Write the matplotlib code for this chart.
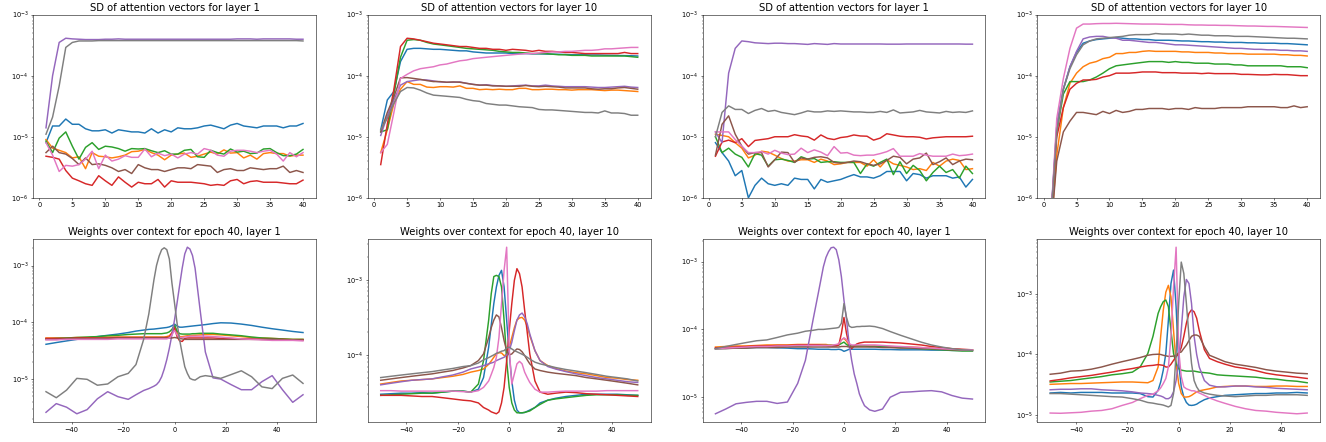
import matplotlib
matplotlib.use("Agg")
import matplotlib.pyplot as plt
import numpy as np

# ---- top row: SD of attention vectors per epoch (values in units of 1e-6) ----
epochs = list(range(1, 41))
SD_UNIT = 1e-6

# panel 1: layer 1 (run A)
sd1_blue = [8, 15, 15, 19.5, 16, 16, 13.5, 12.5, 12.5, 13,
            11.5, 13, 12.5, 12, 12, 11.5, 13.5, 11.5, 13, 12,
            14, 13.5, 13.5, 14, 15, 15.5, 14.5, 13.5, 15.5, 16.5,
            15, 14.5, 14, 15, 15, 15, 14, 15, 15, 16.5]
sd1_orange = [9, 6.5, 6, 5.5, 4.5, 4.7, 3.0, 5.5, 4.8, 4.7,
              4.5, 4.7, 5, 5.7, 5.8, 6.2, 5.5, 5, 4.2, 5,
              5.2, 5.4, 4.6, 4.8, 5.2, 5.6, 5.2, 6.1, 5.4, 5.5,
              4.5, 5.0, 4.3, 5.3, 5.5, 5.3, 5.3, 4.8, 5.0, 5.0]
sd1_green = [8.5, 5.5, 9.5, 12, 7, 4.3, 6.7, 8, 6.2, 7,
             6.8, 6.4, 5.8, 6.4, 6.3, 6.4, 5.9, 5.5, 5.9, 5.2,
             5.2, 6.0, 6.2, 4.7, 4.6, 6.0, 5.5, 5.2, 6.3, 5.6,
             5.8, 5.3, 5.4, 6.3, 6.4, 5.5, 4.9, 4.9, 5.2, 6.2]
sd1_red = [4.8, 4.6, 4.3, 2.8, 2.1, 1.9, 1.7, 1.6, 2.3, 1.9,
           1.6, 2.2, 1.8, 1.5, 1.8, 1.7, 1.7, 2.0, 1.5, 1.9,
           1.8, 1.8, 1.8, 1.75, 1.7, 1.6, 1.65, 1.6, 1.9, 2.0,
           1.7, 1.85, 1.9, 1.8, 1.8, 1.8, 1.75, 1.7, 1.7, 1.95]
sd1_purple = [14, 100, 350, 410, 400, 395, 390, 390, 390, 395,
              395, 400, 395, 395, 395, 395, 395, 395, 395, 395,
              395, 395, 395, 395, 395, 395, 395, 395, 395, 400,
              400, 400, 395, 400, 400, 400, 400, 400, 395, 395]
sd1_brown = [5.5, 7, 5.5, 5.2, 4.4, 3.5, 4.5, 3.5, 3.6, 3.4,
             3.1, 2.7, 2.9, 2.5, 3.5, 3.1, 2.9, 2.9, 2.7, 2.9,
             3.1, 3.1, 3.0, 3.5, 3.4, 3.3, 2.6, 2.9, 3.0, 2.8,
             2.8, 3.1, 3.0, 2.9, 3.0, 3.0, 3.3, 2.6, 2.8, 2.6]
sd1_pink = [8, 5, 2.7, 3.4, 3.3, 3.5, 4.3, 5.8, 3.0, 5.0,
            4.0, 4.3, 4.9, 4.6, 4.6, 6.3, 4.7, 5.4, 4.9, 5.2,
            4.5, 5.2, 5.5, 5.2, 6.4, 6.0, 5.0, 4.8, 5.8, 6.0,
            6.0, 5.8, 5.5, 5.8, 6.0, 5.2, 4.0, 5.5, 4.7, 5.5]
sd1_gray = [11, 21, 68, 290, 350, 370, 370, 370, 375, 375,
            375, 375, 375, 375, 375, 375, 375, 375, 375, 375,
            375, 375, 375, 375, 375, 375, 375, 375, 375, 375,
            375, 375, 375, 375, 375, 375, 375, 375, 375, 370]

# panel 2: layer 10 (run A)
sd2_blue = [13, 40, 55, 170, 270, 280, 280, 275, 270, 270,
            265, 260, 255, 255, 245, 240, 235, 235, 235, 235,
            230, 230, 230, 228, 228, 226, 225, 224, 222, 220,
            220, 220, 218, 218, 216, 215, 214, 213, 212, 210]
sd2_orange = [5.5, 13, 35, 60, 80, 72, 72, 65, 64, 66,
              66, 65, 68, 62, 62, 59, 60, 59, 60, 59,
              59, 62, 62, 59, 59, 60, 60, 59, 59, 58,
              59, 59, 59, 58, 57, 58, 58, 57, 56, 55]
sd2_green = [12, 13, 50, 200, 380, 390, 380, 350, 330, 320,
             310, 300, 290, 280, 275, 270, 265, 260, 250, 245,
             240, 240, 235, 230, 230, 230, 225, 220, 220, 215,
             215, 215, 210, 210, 210, 210, 210, 210, 205, 200]
sd2_red = [3.5, 16, 60, 300, 410, 400, 380, 360, 340, 330,
           320, 310, 300, 300, 290, 280, 280, 270, 270, 260,
           270, 265, 260, 250, 260, 250, 250, 245, 240, 240,
           235, 230, 230, 230, 230, 230, 230, 240, 230, 230]
sd2_purple = [10.5, 22, 40, 70, 80, 83, 86, 85, 82, 79,
              78, 78, 79, 75, 72, 70, 71, 69, 68, 67,
              68, 69, 70, 68, 68, 70, 68, 67, 66, 66,
              66, 66, 65, 64, 64, 65, 66, 67, 65, 64]
sd2_brown = [12, 25, 45, 92, 93, 90, 87, 83, 80, 80,
             78, 79, 78, 75, 72, 70, 70, 68, 68, 67,
             67, 67, 69, 67, 66, 67, 66, 65, 63, 63,
             63, 63, 61, 60, 61, 61, 63, 64, 62, 60]
sd2_pink = [5.5, 7.5, 25, 90, 105, 120, 130, 135, 140, 150,
            155, 165, 175, 180, 190, 195, 200, 205, 210, 215,
            220, 225, 230, 230, 235, 240, 245, 245, 250, 250,
            255, 260, 260, 265, 275, 275, 280, 285, 290, 290]
sd2_gray = [13, 20, 35, 55, 64, 63, 58, 52, 48, 47,
            46, 45, 44, 41, 39, 38, 35, 34, 33, 33,
            32, 31, 30.5, 30, 28, 27.5, 27.5, 27, 26.5, 26,
            25.5, 25, 25, 24.5, 26.5, 24.5, 24.5, 24, 22.5, 22.5]

# panel 3: layer 1 (run B)
sd3_blue = [8, 5.5, 4, 2.3, 2.8, 1.0, 1.6, 2.1, 1.7, 1.6,
            1.7, 1.6, 2.1, 2.0, 2.0, 1.4, 2.0, 1.8, 1.9, 2.0,
            2.2, 2.4, 2.2, 2.2, 2.1, 2.3, 2.7, 2.7, 2.7, 1.9,
            2.5, 2.4, 2.1, 2.3, 2.3, 2.3, 2.1, 2.2, 1.5, 2.0]
sd3_orange = [11, 10.5, 10, 8, 6.5, 4.5, 5, 5.8, 5.6, 5.0,
              4.4, 4.0, 4.0, 4.2, 4.2, 3.8, 4.3, 4.0, 3.5, 3.6,
              3.8, 3.8, 3.8, 3.3, 4.2, 3.2, 4.2, 3.6, 3.4, 3.2,
              2.9, 3.0, 2.8, 3.8, 3.3, 4.0, 4.3, 4.1, 2.9, 3.0]
sd3_green = [10, 5.5, 6.5, 5.2, 4.6, 3.2, 5.3, 5.0, 3.3, 4.2,
             4.3, 4.1, 3.8, 4.7, 4.3, 4.4, 3.8, 3.9, 3.9, 3.8,
             3.8, 3.8, 2.5, 3.6, 3.3, 3.8, 4.3, 2.4, 3.9, 2.5,
             3.4, 2.8, 1.9, 2.6, 3.3, 2.6, 2.9, 2.1, 3.3, 2.5]
sd3_red = [4.8, 8.2, 8.8, 8, 9.3, 6.9, 8.7, 9, 9.3, 10,
           10, 10, 10.8, 10.3, 10, 8.8, 10.7, 9.4, 9.0, 9.7,
           10, 10.7, 10.3, 10.2, 8.8, 9.5, 11.2, 10.7, 10.2, 10,
           10, 9.8, 9.2, 9.6, 9.8, 10, 10, 10, 10, 10.2]
sd3_purple = [12, 8, 110, 280, 370, 360, 345, 340, 335, 340,
              340, 335, 335, 330, 325, 335, 330, 325, 335, 330,
              330, 330, 330, 330, 330, 330, 328, 328, 328, 330,
              330, 330, 330, 330, 330, 330, 330, 330, 328, 328]
sd3_brown = [5, 16, 22, 11, 7, 5.2, 5.5, 5.5, 3.2, 4.2,
             5.6, 5.5, 3.8, 4.5, 4.3, 4.6, 4.7, 4.5, 3.8, 3.7,
             3.8, 4.0, 3.9, 3.6, 3.4, 3.6, 4.1, 4.8, 4.6, 3.6,
             4.3, 4.5, 5.4, 3.5, 3.9, 4.5, 3.5, 4.0, 4.3, 4.2]
sd3_pink = [12, 12, 12, 9, 7, 5.5, 5.5, 5.7, 5.2, 6.0,
            5.4, 5.1, 5.2, 6.5, 5.5, 6.1, 5.6, 4.9, 6.9, 5.4,
            5.5, 5.0, 4.9, 5.0, 5.0, 5.3, 5.7, 6.4, 4.8, 4.8,
            4.8, 5.3, 5.0, 4.8, 4.8, 4.8, 5.2, 4.9, 5.0, 5.2]
sd3_gray = [10, 25, 32, 28, 28, 24, 27, 29, 26, 27,
            25, 24, 23, 24.5, 26.5, 25.5, 25.5, 26.5, 26, 26.5,
            26, 25.5, 25.5, 25, 25, 26, 25, 27.5, 24.5, 25,
            25.5, 27, 25.5, 25, 24.5, 26, 25, 25.5, 25, 26.5]

# panel 4: layer 10 (run B)
sd4_blue = [0.3, 15, 60, 140, 240, 340, 370, 390, 400, 410,
            420, 410, 400, 400, 390, 390, 380, 380, 380, 375,
            370, 370, 365, 360, 360, 355, 355, 350, 350, 350,
            345, 345, 340, 340, 340, 335, 335, 330, 325, 320]
sd4_orange = [0.2, 5, 30, 75, 110, 140, 160, 170, 190, 200,
              230, 230, 240, 240, 250, 255, 250, 250, 250, 250,
              245, 245, 240, 240, 240, 235, 235, 230, 230, 230,
              225, 225, 225, 225, 225, 220, 220, 215, 215, 210]
sd4_green = [0.3, 12, 50, 80, 80, 80, 85, 95, 110, 130,
             145, 150, 155, 160, 165, 170, 170, 170, 165, 170,
             165, 165, 160, 160, 160, 155, 155, 155, 150, 150,
             145, 145, 145, 145, 145, 145, 140, 140, 140, 135]
sd4_red = [0.3, 10, 30, 60, 75, 85, 85, 87, 95, 100,
           110, 110, 110, 112, 115, 115, 115, 112, 112, 112,
           110, 110, 110, 108, 110, 108, 108, 108, 108, 105,
           105, 104, 103, 103, 105, 104, 104, 102, 100, 100]
sd4_purple = [0.3, 15, 60, 140, 250, 400, 430, 440, 440, 420,
              410, 380, 380, 370, 360, 350, 350, 340, 330, 320,
              320, 315, 310, 305, 300, 295, 290, 285, 280, 280,
              275, 270, 270, 265, 265, 260, 260, 255, 255, 250]
sd4_brown = [0.2, 4, 12, 18, 25, 25, 24, 23, 26, 24,
             27, 25, 26, 28, 28, 29, 29, 29, 28, 29,
             29, 28, 30, 29, 29, 29, 30, 30, 30, 30,
             31, 31, 31, 31, 31, 30, 30, 32, 30, 31]
sd4_pink = [0.3, 20, 90, 280, 600, 700, 700, 710, 715, 715,
            720, 715, 710, 705, 700, 700, 700, 695, 690, 690,
            690, 680, 675, 675, 670, 670, 665, 665, 660, 655,
            650, 650, 645, 640, 640, 635, 630, 625, 620, 615]
sd4_gray = [0.3, 12, 60, 130, 220, 320, 370, 400, 410, 420,
            430, 440, 460, 470, 470, 470, 490, 480, 480, 480,
            470, 480, 470, 460, 460, 450, 450, 450, 440, 440,
            440, 435, 430, 425, 420, 415, 410, 410, 405, 400]

# ---- bottom row: weights over context at epoch 40 (values in units of 1e-5) ----
context = [-50, -46, -42, -38, -34, -30, -26, -22, -18,
           -15, -12, -10, -8, -7, -6,
           -5, -4, -3, -2, -1, 0, 1, 2, 3, 4, 5,
           6, 7, 8, 10, 12,
           15, 18, 22, 26, 30, 34, 38, 42, 46, 50]
W_UNIT = 1e-5

# panel 5: layer 1 (run A)
w1_blue = [4.1, 4.4, 4.7, 5.0, 5.3, 5.6, 5.9, 6.2, 6.6,
           7.0, 7.3, 7.5, 7.6, 7.7, 7.8,
           7.9, 8.0, 8.1, 8.3, 8.7, 9.3, 8.6, 8.2, 8.2, 8.3, 8.4,
           8.5, 8.6, 8.7, 8.9, 9.1,
           9.5, 9.8, 9.7, 9.3, 8.8, 8.2, 7.7, 7.3, 6.9, 6.6]
w1_orange = [5.3, 5.3, 5.3, 5.4, 5.4, 5.5, 5.5, 5.5, 5.5,
             5.5, 5.5, 5.5, 5.5, 5.5, 5.5,
             5.5, 5.5, 5.6, 5.8, 6.5, 8.5, 6.5, 5.6, 5.6, 5.7, 5.8,
             5.8, 5.9, 5.9, 6.0, 6.1,
             6.1, 6.0, 5.8, 5.6, 5.4, 5.3, 5.2, 5.1, 5.0, 5.0]
w1_green = [5.1, 5.2, 5.3, 5.4, 5.5, 5.6, 5.8, 5.9, 6.1,
            6.2, 6.3, 6.3, 6.3, 6.3, 6.3,
            6.3, 6.4, 6.5, 6.8, 7.5, 9.0, 7.0, 6.3, 6.2, 6.2, 6.2,
            6.2, 6.3, 6.3, 6.4, 6.4,
            6.4, 6.2, 6.0, 5.8, 5.5, 5.3, 5.2, 5.1, 5.0, 5.0]
w1_red = [5.2, 5.2, 5.2, 5.3, 5.3, 5.3, 5.3, 5.4, 5.4,
          5.4, 5.4, 5.4, 5.4, 5.4, 5.4,
          5.4, 5.4, 5.4, 5.5, 6.5, 8.0, 5.6, 4.7, 4.6, 5.2, 5.3,
          5.3, 5.3, 5.3, 5.3, 5.3,
          5.3, 5.2, 5.2, 5.1, 5.1, 5.0, 5.0, 5.0, 4.9, 4.9]
w1_purple = [0.26, 0.37, 0.32, 0.245, 0.29, 0.45, 0.60, 0.49, 0.44,
             0.53, 0.63, 0.68, 0.75, 0.8, 0.9,
             1.1, 1.5, 2.2, 3.5, 6.0, 11, 22, 45, 90, 160, 210,
             195, 150, 90, 16, 3.0,
             1.05, 1.0, 0.8, 0.65, 0.65, 0.9, 1.15, 0.65, 0.39, 0.53]
w1_brown = [5.0, 5.0, 5.1, 5.1, 5.1, 5.2, 5.2, 5.3, 5.3,
            5.3, 5.3, 5.3, 5.3, 5.3, 5.3,
            5.3, 5.3, 5.3, 5.3, 5.3, 5.4, 5.3, 5.2, 5.1, 5.0, 5.0,
            5.0, 5.0, 5.0, 5.0, 5.0,
            5.0, 5.0, 5.0, 5.0, 5.0, 5.0, 5.0, 4.9, 4.9, 4.9]
w1_pink = [4.9, 4.9, 5.0, 5.0, 5.0, 5.0, 5.0, 5.1, 5.1,
           5.1, 5.1, 5.1, 5.1, 5.1, 5.1,
           5.1, 5.1, 5.1, 5.3, 6.0, 7.2, 6.0, 5.4, 5.4, 5.5, 5.6,
           5.7, 5.7, 5.7, 5.7, 5.7,
           5.6, 5.5, 5.3, 5.1, 5.0, 4.9, 4.8, 4.8, 4.8, 4.7]
w1_gray = [0.60, 0.47, 0.64, 1.03, 0.99, 0.78, 0.82, 1.1, 1.26,
           1.8, 5.0, 14, 56, 100, 146,
           190, 205, 190, 130, 49, 22, 9.6, 4.9, 2.8, 1.65, 1.26,
           1.03, 0.98, 0.96, 1.1, 1.15,
           1.1, 1.03, 1.2, 1.4, 1.1, 0.73, 0.68, 1.03, 1.18, 0.84]

# panel 6: layer 10 (run A)
w2_blue = [3.0, 3.05, 3.1, 3.1, 3.15, 3.1, 3.2, 3.3, 3.3,
           3.2, 3.5, 5.0, 12.7, 25, 48,
           80, 114, 133, 80, 29, 10.3, 4.5, 2.5, 1.85, 1.7, 1.7,
           1.72, 1.78, 1.85, 2.0, 2.3,
           2.5, 2.65, 2.8, 2.9, 3.0, 3.0, 3.0, 3.0, 2.95, 2.9]
w2_orange = [4.1, 4.3, 4.5, 4.6, 4.7, 4.8, 5.0, 5.2, 5.5,
             5.9, 6.2, 6.5, 7.5, 8.3, 9.3,
             10.3, 10.7, 10.6, 9.8, 10.0, 12.7, 17, 23, 29, 31, 31.5,
             29, 24, 18, 11.4, 8.4,
             7.2, 6.6, 6.1, 5.8, 5.6, 5.3, 5.0, 4.9, 4.7, 4.6]
w2_green = [2.9, 2.95, 3.0, 3.05, 3.1, 3.1, 3.2, 3.3, 3.3,
            3.2, 4.1, 8.4, 29, 65, 110,
            114, 110, 80, 29, 8.4, 3.7, 2.3, 1.85, 1.7, 1.7, 1.7,
            1.72, 1.76, 1.8, 2.0, 2.2,
            2.5, 2.6, 2.7, 2.8, 2.9, 2.95, 2.95, 2.95, 2.9, 2.9]
w2_red = [2.9, 2.9, 2.9, 2.85, 2.8, 2.8, 2.7, 2.6, 2.5,
          2.45, 2.3, 2.0, 1.85, 1.75, 1.7,
          1.65, 1.75, 2.3, 3.7, 8.4, 21, 48, 98, 140, 120, 80,
          39, 20, 10.3, 4.5, 3.2,
          3.0, 3.1, 3.2, 3.15, 3.05, 3.0, 2.95, 2.9, 2.85, 2.8]
w2_purple = [4.0, 4.2, 4.4, 4.6, 4.7, 4.8, 5.1, 5.4, 5.9,
             6.5, 6.9, 7.2, 7.6, 7.8, 8.0,
             8.4, 8.7, 9.0, 9.3, 10.0, 11.4, 14.7, 21, 29, 34, 36,
             32, 26, 19, 11.4, 8.4,
             7.0, 6.5, 6.0, 5.6, 5.3, 5.0, 4.8, 4.6, 4.4, 4.3]
w2_brown = [4.6, 4.8, 5.0, 5.2, 5.4, 5.6, 5.9, 6.2, 6.7,
            7.2, 8.4, 10.3, 17, 23, 29,
            34, 32, 23, 15.5, 11.4, 10.0, 10.3, 11.2, 12.0, 11.8, 11.0,
            9.8, 8.6, 7.6, 6.5, 6.2,
            5.9, 5.7, 5.5, 5.3, 5.0, 4.8, 4.6, 4.4, 4.2, 4.0]
w2_pink = [3.35, 3.35, 3.3, 3.3, 3.3, 3.3, 3.3, 3.3, 3.25,
           3.2, 3.35, 3.7, 4.5, 5.5, 6.8,
           9.3, 17, 48, 133, 270, 12, 4.1, 5.6, 7.6, 8.2, 7.6,
           5.9, 5.0, 4.3, 3.5, 3.2,
           3.2, 3.25, 3.3, 3.3, 3.3, 3.3, 3.35, 3.35, 3.35, 3.35]
w2_gray = [5.0, 5.2, 5.4, 5.6, 5.8, 6.0, 6.3, 6.6, 7.0,
           7.2, 7.8, 8.6, 9.2, 9.6, 10.0,
           10.5, 10.8, 11.2, 11.4, 12.3, 12.7, 12.0, 11.4, 11.0, 10.6, 10.2,
           9.8, 9.3, 8.8, 8.0, 7.6,
           7.2, 6.8, 6.4, 6.1, 5.8, 5.5, 5.2, 5.0, 4.8, 4.5]

# panel 7: layer 1 (run B)
w3_blue = [5.2, 5.25, 5.3, 5.35, 5.4, 5.4, 5.35, 5.3, 5.2,
           5.2, 5.15, 5.1, 5.1, 5.1, 5.1,
           5.05, 5.05, 5.05, 5.1, 5.0, 4.75, 4.9, 5.1, 5.1, 5.1, 5.1,
           5.1, 5.1, 5.1, 5.1, 5.1,
           5.05, 5.05, 5.0, 5.0, 5.0, 4.95, 4.95, 4.9, 4.9, 4.9]
w3_orange = [5.5, 5.6, 5.7, 5.7, 5.8, 5.9, 5.9, 5.9, 6.0,
             6.0, 6.0, 6.0, 6.0, 6.0, 5.9,
             5.9, 5.8, 5.9, 6.1, 7.0, 7.4, 6.7, 5.9, 5.7, 5.7, 5.7,
             5.7, 5.7, 5.7, 5.7, 5.7,
             5.6, 5.6, 5.5, 5.5, 5.4, 5.3, 5.2, 5.1, 5.0, 5.0]
w3_green = [5.2, 5.3, 5.4, 5.4, 5.5, 5.5, 5.6, 5.6, 5.7,
            5.7, 5.8, 5.8, 5.8, 5.8, 5.8,
            5.8, 5.8, 5.8, 5.9, 6.2, 6.5, 6.0, 5.7, 5.7, 5.7, 5.7,
            5.7, 5.7, 5.7, 5.6, 5.6,
            5.6, 5.5, 5.4, 5.3, 5.2, 5.1, 5.0, 4.9, 4.8, 4.8]
w3_red = [5.35, 5.4, 5.5, 5.6, 5.7, 5.7, 5.8, 5.8, 5.9,
          5.9, 5.9, 5.9, 5.8, 5.8, 5.7,
          5.7, 5.7, 5.7, 5.9, 8.7, 15, 8.7, 5.9, 5.2, 5.7, 6.1,
          6.3, 6.4, 6.5, 6.5, 6.5,
          6.5, 6.4, 6.3, 6.1, 5.9, 5.6, 5.4, 5.2, 5.1, 5.0]
w3_purple = [0.57, 0.67, 0.8, 0.84, 0.87, 0.87, 0.81, 0.85, 1.6,
             3.5, 14, 34, 84, 115, 140,
             160, 163, 150, 106, 60, 27, 14, 6.2, 3.5, 2.2, 1.6,
             1.12, 0.9, 0.75, 0.65, 0.62,
             0.67, 1.0, 1.18, 1.2, 1.23, 1.25, 1.2, 1.06, 0.97, 0.94]
w3_brown = [5.2, 5.2, 5.3, 5.3, 5.4, 5.4, 5.4, 5.5, 5.5,
            5.5, 5.5, 5.5, 5.5, 5.5, 5.5,
            5.5, 5.5, 5.5, 5.5, 5.6, 5.6, 5.6, 5.5, 5.5, 5.5, 5.5,
            5.5, 5.5, 5.5, 5.5, 5.5,
            5.4, 5.4, 5.3, 5.3, 5.2, 5.2, 5.1, 5.0, 5.0, 4.9]
w3_pink = [5.2, 5.3, 5.4, 5.5, 5.6, 5.6, 5.7, 5.7, 5.8,
           5.8, 5.8, 5.8, 5.8, 5.8, 5.8,
           5.8, 5.9, 6.0, 6.1, 7.0, 7.5, 7.1, 6.2, 5.9, 5.9, 5.9,
           5.9, 5.9, 5.9, 5.9, 5.9,
           5.8, 5.7, 5.6, 5.5, 5.4, 5.3, 5.2, 5.1, 5.0, 5.0]
w3_gray = [5.2, 5.6, 6.0, 6.4, 6.8, 7.0, 7.6, 8.3, 8.8,
           9.4, 9.7, 10.0, 10.0, 10.1, 10.2,
           10.3, 10.4, 10.5, 10.7, 12.3, 24, 15, 11.2, 10.7, 10.8, 11.0,
           11.0, 11.1, 11.1, 11.2, 11.0,
           10.3, 9.3, 8.2, 7.3, 6.5, 5.9, 5.5, 5.2, 5.0, 4.9]

# panel 8: layer 10 (run B)
w4_blue = [2.3, 2.35, 2.3, 2.35, 2.35, 2.35, 2.3, 2.3, 2.3,
           2.25, 2.0, 1.97, 2.55, 3.5, 5.5,
           10.4, 37, 150, 250, 62, 7.1, 2.9, 1.97, 1.6, 1.45, 1.43,
           1.45, 1.5, 1.6, 1.78, 1.9,
           2.0, 2.1, 2.15, 2.2, 2.25, 2.25, 2.3, 2.3, 2.35, 2.3]
w4_orange = [3.2, 3.25, 3.3, 3.3, 3.35, 3.4, 3.45, 3.5, 3.5,
             3.45, 3.4, 3.7, 6.2, 20, 54,
             108, 140, 90, 25, 7.1, 3.3, 2.25, 1.97, 1.97, 2.0, 2.1,
             2.25, 2.4, 2.5, 2.6, 2.7,
             2.9, 2.95, 3.0, 3.0, 2.95, 2.95, 3.0, 3.0, 2.95, 2.95]
w4_green = [3.5, 3.6, 3.7, 3.9, 4.1, 4.3, 4.6, 4.8, 5.1,
            6.2, 10.4, 20, 48, 62, 75,
            80, 62, 25, 10.4, 7.1, 5.8, 5.5, 5.4, 5.3, 5.3, 5.3,
            5.3, 5.2, 5.1, 5.0, 4.9,
            4.6, 4.5, 4.4, 4.3, 4.2, 4.0, 3.9, 3.7, 3.6, 3.4]
w4_red = [3.65, 3.85, 4.1, 4.3, 4.5, 4.8, 5.1, 5.5, 5.85,
          6.2, 6.5, 6.6, 6.8, 6.7, 6.6,
          6.2, 6.2, 6.9, 8.0, 9.2, 10.4, 13, 20, 33, 48, 55,
          51, 40, 25, 12, 8.6,
          7.6, 6.9, 6.2, 5.85, 5.4, 4.9, 4.6, 4.4, 4.2, 4.0]
w4_purple = [2.6, 2.65, 2.65, 2.7, 2.7, 2.6, 2.55, 2.5, 2.4,
             2.3, 2.25, 2.2, 2.1, 2.05, 1.97,
             1.85, 1.85, 1.97, 2.4, 3.7, 8.0, 25, 90, 175, 150, 70,
             20, 10, 6.2, 3.7, 3.1,
             2.9, 2.9, 3.0, 3.0, 2.9, 2.85, 2.75, 2.7, 2.65, 2.6]
w4_brown = [4.7, 4.9, 5.3, 5.4, 5.7, 6.2, 6.9, 7.6, 8.3,
            8.9, 9.7, 10.0, 10.1, 10.0, 9.7,
            9.5, 9.3, 9.3, 9.4, 9.6, 10.7, 11.0, 12.6, 14.3, 17, 20,
            21, 21, 20, 13.4, 9.7,
            8.6, 7.6, 6.9, 6.5, 6.1, 5.6, 5.3, 5.1, 4.9, 4.8]
w4_pink = [1.07, 1.06, 1.08, 1.1, 1.15, 1.18, 1.26, 1.43, 1.6,
           1.85, 2.1, 2.2, 2.5, 2.8, 3.3,
           4.0, 6.2, 20, 130, 600, 12, 4.3, 2.9, 2.7, 2.6, 2.5,
           2.5, 2.4, 2.3, 2.1, 1.9,
           1.7, 1.55, 1.38, 1.26, 1.18, 1.15, 1.1, 1.07, 1.04, 1.07]
w4_gray = [2.25, 2.25, 2.2, 2.15, 2.1, 2.05, 2.0, 1.97, 1.85,
           1.75, 1.6, 1.56, 1.5, 1.48, 1.45,
           1.4, 1.35, 1.43, 2.25, 10.4, 70, 340, 220, 70, 20, 7.1,
           3.7, 2.9, 2.5, 2.3, 2.2,
           2.1, 2.05, 2.0, 2.05, 2.1, 2.1, 2.15, 2.15, 2.15, 2.1]

sd_titles = ["SD of attention vectors for layer 1", "SD of attention vectors for layer 10",
             "SD of attention vectors for layer 1", "SD of attention vectors for layer 10"]
w_titles = ["Weights over context for epoch 40, layer 1", "Weights over context for epoch 40, layer 10",
            "Weights over context for epoch 40, layer 1", "Weights over context for epoch 40, layer 10"]

sd_series = [
    [sd1_blue, sd1_orange, sd1_green, sd1_red, sd1_purple, sd1_brown, sd1_pink, sd1_gray],
    [sd2_blue, sd2_orange, sd2_green, sd2_red, sd2_purple, sd2_brown, sd2_pink, sd2_gray],
    [sd3_blue, sd3_orange, sd3_green, sd3_red, sd3_purple, sd3_brown, sd3_pink, sd3_gray],
    [sd4_blue, sd4_orange, sd4_green, sd4_red, sd4_purple, sd4_brown, sd4_pink, sd4_gray],
]
w_series = [
    [w1_blue, w1_orange, w1_green, w1_red, w1_purple, w1_brown, w1_pink, w1_gray],
    [w2_blue, w2_orange, w2_green, w2_red, w2_purple, w2_brown, w2_pink, w2_gray],
    [w3_blue, w3_orange, w3_green, w3_red, w3_purple, w3_brown, w3_pink, w3_gray],
    [w4_blue, w4_orange, w4_green, w4_red, w4_purple, w4_brown, w4_pink, w4_gray],
]

DPI = 48
LW = 2.2
TITLE_SIZE = 15

fig, axes = plt.subplots(2, 4, figsize=(1326 / DPI, 442 / DPI), dpi=DPI)

# top row: SD over epochs
for ax, title, lines in zip(axes[0], sd_titles, sd_series):
    for vals in lines:
        ax.plot(epochs, np.array(vals) * SD_UNIT, lw=LW)
    ax.set_yscale("log")
    ax.set_ylim(1e-6, 1e-3)
    ax.set_title(title, fontsize=TITLE_SIZE)

# bottom row: weights over context positions
for ax, title, lines in zip(axes[1], w_titles, w_series):
    for vals in lines:
        ax.plot(context, np.array(vals) * W_UNIT, lw=LW)
    ax.set_yscale("log")
    ax.set_title(title, fontsize=TITLE_SIZE)

fig.subplots_adjust(left=0.025, right=0.9955, top=0.967, bottom=0.045,
                    wspace=0.184, hspace=0.224)
fig.savefig("out.png", dpi=DPI)
